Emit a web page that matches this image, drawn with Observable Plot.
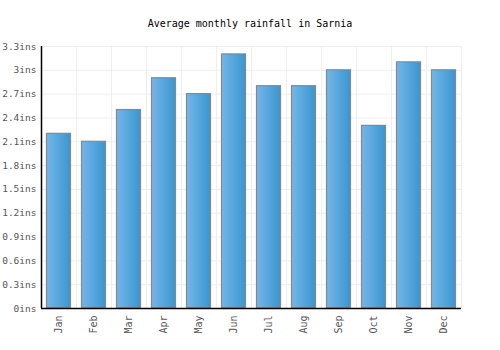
<!DOCTYPE html>
<html>
<head>
<meta charset="utf-8">
<script src="https://cdn.jsdelivr.net/npm/d3@7"></script>
<script src="https://cdn.jsdelivr.net/npm/@observablehq/plot@0.6"></script>
<style>
  html, body { margin: 0; padding: 0; background: #fff; }
  #title { height: 38px; width: 500px; text-align: center; font-family: "DejaVu Sans Mono", monospace; font-size: 10px; line-height: 47px; color: #000; }
  #chart svg { display: block; }
</style>
</head>
<body>
<div id="title">Average monthly rainfall in Sarnia</div>
<div id="chart"></div>
<script>
const months = ["Jan","Feb","Mar","Apr","May","Jun","Jul","Aug","Sep","Oct","Nov","Dec"];
const rainfall = [2.2, 2.1, 2.5, 2.9, 2.7, 3.2, 2.8, 2.8, 3.0, 2.3, 3.1, 3.0];
const yTicks = [0, 0.3, 0.6, 0.9, 1.2, 1.5, 1.8, 2.1, 2.4, 2.7, 3.0, 3.3];
const unit = "ins";

const data = months.map((m, i) => ({month: m, value: rainfall[i]}));
const bandHalf = 17.5;

const chart = Plot.plot({
  width: 500,
  height: 312,
  marginTop: 8,
  marginBottom: 42,
  marginLeft: 41,
  marginRight: 39,
  style: {fontFamily: "DejaVu Sans Mono, monospace", fontSize: "9.5px", color: "#555", background: "#fff"},
  x: {domain: months, padding: 0, label: null},
  y: {domain: [0, 3.3], ticks: yTicks, label: null},
  marks: [
    Plot.gridY(yTicks, {stroke: "#eee", strokeOpacity: 1}),
    Plot.ruleX(months, {dx: bandHalf, stroke: "#eee", strokeOpacity: 1}),
    Plot.barY(data, {x: "month", y: "value", fill: "url(#barGrad)", stroke: "#888", strokeWidth: 1.2, insetLeft: 5.5, insetRight: 5.5}),
    Plot.axisY(yTicks, {tickSize: 0, tickPadding: 5, tickFormat: d => d + unit, fill: "#555", fontSize: 9.5}),
    Plot.axisX({tickSize: 0, tickPadding: 7, tickRotate: -90, fill: "#555", fontSize: 10}),
    Plot.ruleY([0], {stroke: "#000", strokeWidth: 1.5}),
    Plot.ruleX([months[0]], {dx: -bandHalf, stroke: "#000", strokeWidth: 1.5})
  ]
});

const svg = d3.select(chart);
const defs = svg.insert("defs", ":first-child");
const grad = defs.append("linearGradient").attr("id", "barGrad").attr("x1", "0").attr("x2", "1").attr("y1", "0").attr("y2", "0");
grad.append("stop").attr("offset", "0%").attr("stop-color", "#74b6ea");
grad.append("stop").attr("offset", "100%").attr("stop-color", "#3a96cf");

document.getElementById("chart").appendChild(chart);
</script>
</body>
</html>
